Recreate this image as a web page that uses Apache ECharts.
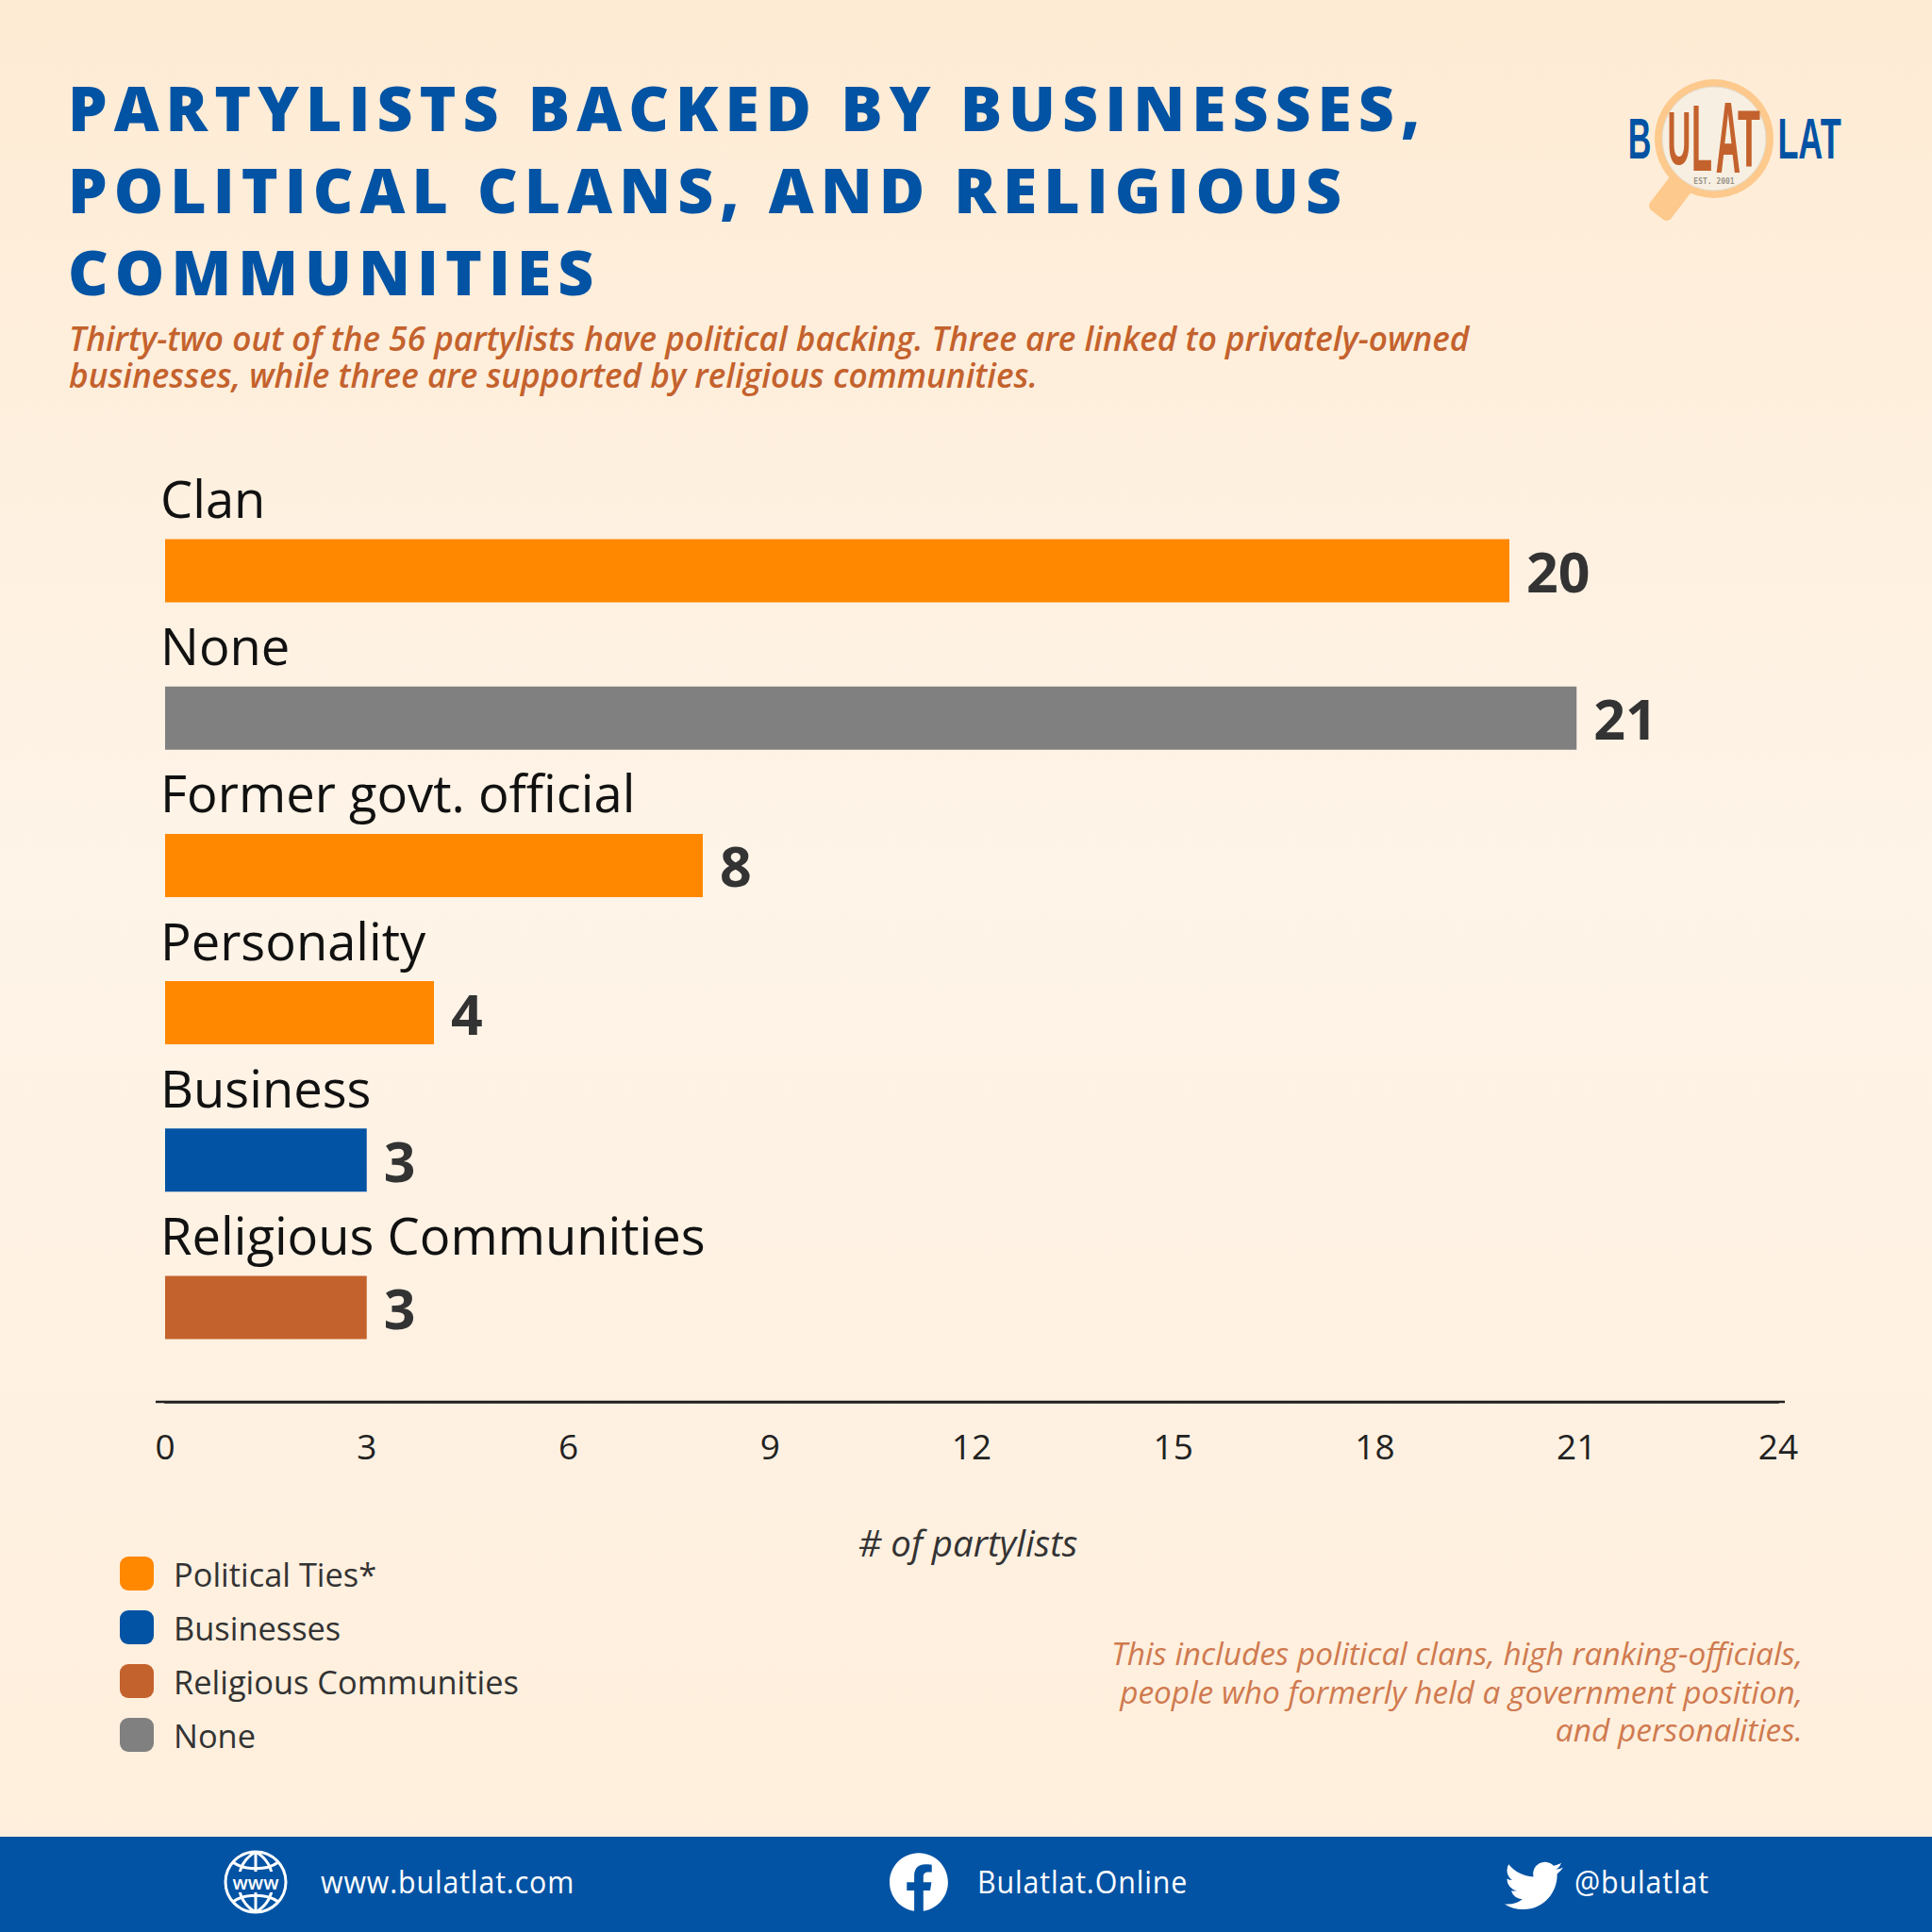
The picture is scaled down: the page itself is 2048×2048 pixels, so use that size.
<!DOCTYPE html>
<html>
<head>
<meta charset="utf-8">
<script src="https://cdn.jsdelivr.net/npm/echarts@6/dist/echarts.min.js"></script>
<style>
html,body{margin:0;padding:0;background:#fff3e6}
#c{width:2048px;height:2048px}
</style>
</head>
<body>
<div id="c"></div>
<script>
const categories = ['Clan','None','Former govt. official','Personality','Business','Religious Communities'];
const politicalTies = [20,null,8,4,null,null];
const businesses = [null,null,null,null,3,null];
const religious = [null,null,null,null,null,3];
const noneTies = [null,21,null,null,null,null];
const titleLines = 'PARTYLISTS BACKED BY BUSINESSES,\nPOLITICAL CLANS, AND RELIGIOUS\nCOMMUNITIES';
const subtitleLines = 'Thirty-two out of the 56 partylists have political backing. Three are linked to privately-owned\nbusinesses, while three are supported by religious communities.';
const noteLines = 'This includes political clans, high ranking-officials,\npeople who formerly held a government position,\nand personalities.';
const footerLabels = ['www.bulatlat.com','Bulatlat.Online','@bulatlat'];

const ORANGE='#ff8800',BLUE='#0353a4',RUST='#c4622d',GRAY='#808080',INK='#333333';
const FONT='"Open Sans"';
const LOGO='"Liberation Sans"';

const TW='M23.953 4.57a10 10 0 0 1-2.825.775 4.958 4.958 0 0 0 2.163-2.723c-.951.555-2.005.959-3.127 1.184a4.92 4.92 0 0 0-8.384 4.482C7.69 8.095 4.067 6.13 1.64 3.162a4.822 4.822 0 0 0-.666 2.475c0 1.71.87 3.213 2.188 4.096a4.904 4.904 0 0 1-2.228-.616v.06a4.923 4.923 0 0 0 3.946 4.827 4.996 4.996 0 0 1-2.212.085 4.936 4.936 0 0 0 4.604 3.417 9.867 9.867 0 0 1-6.102 2.105c-.39 0-.779-.023-1.17-.067a13.995 13.995 0 0 0 7.557 2.209c9.053 0 13.998-7.496 13.998-13.985 0-.21 0-.42-.015-.63A9.935 9.935 0 0 0 24 4.59z';
const FB='M24 12.073c0-6.627-5.373-12-12-12s-12 5.373-12 12c0 5.99 4.388 10.954 10.125 11.854v-8.385H7.078v-3.47h3.047V9.43c0-3.007 1.792-4.669 4.533-4.669 1.312 0 2.686.235 2.686.235v2.953H15.83c-1.491 0-1.956.925-1.956 1.874v2.25h3.328l-.532 3.47h-2.796v8.385C19.612 23.027 24 18.062 24 12.073z';
const GLOBE='M32 0A32 32 0 1 0 32 64A32 32 0 1 0 32 0M32 0C18 8 14 20 14 32C14 44 18 56 32 64M32 0C46 8 50 20 50 32C50 44 46 56 32 64M32 0V22M32 42V64M8 11C20 20 44 20 56 11M8 53C20 44 44 44 56 53';
echarts.graphic.registerShape('iconTwitter',echarts.graphic.extendPath(TW,{}));
echarts.graphic.registerShape('iconFacebook',echarts.graphic.extendPath(FB,{}));
echarts.graphic.registerShape('iconGlobe',echarts.graphic.extendPath(GLOBE,{}));

function barSeries(name,data,color){
  return {name,type:'bar',stack:'all',data,barWidth:67,itemStyle:{color},
    label:{show:true,position:'right',distance:18,fontFamily:FONT,fontWeight:700,fontSize:59,color:INK}};
}
function footerText(text,x){
  return {type:'text',x,y:1994,scaleX:0.92,style:{text,fill:'#fff',fontFamily:FONT,fontWeight:400,fontSize:33,verticalAlign:'middle'}};
}
function logoText(text,cx,cy,size,sx,fill){
  return {type:'text',x:cx,y:cy,scaleX:sx,style:{text,fill,fontFamily:LOGO,fontWeight:700,fontSize:size,align:'center',verticalAlign:'middle'}};
}

const option={
  animation:false,
  backgroundColor:{type:'linear',x:0,y:0,x2:0,y2:1,colorStops:[
    {offset:0,color:'#feebd4'},{offset:0.45,color:'#fef4e8'},{offset:1,color:'#ffeedb'}]},
  title:[
    {text:titleLines,left:67,top:64,textStyle:{fontFamily:FONT,fontWeight:800,fontSize:66,lineHeight:87,color:BLUE}},
    {text:subtitleLines,left:68,top:333,textStyle:{fontFamily:FONT,fontWeight:600,fontStyle:'italic',fontSize:35.2,lineHeight:39,color:RUST}},
    {text:noteLines,left:1906,textAlign:'right',top:1727,textStyle:{fontFamily:FONT,fontWeight:400,fontStyle:'italic',fontSize:33.4,lineHeight:40.5,color:'#cf7a4f'}}
  ],
  legend:{left:122,top:1645,orient:'vertical',itemWidth:36,itemHeight:36,itemGap:21,icon:'roundRect',
    data:['Political Ties*','Businesses','Religious Communities','None'],
    textStyle:{fontFamily:FONT,fontWeight:500,fontSize:34.4,color:INK,padding:[0,0,0,16]}},
  grid:{left:175,right:163,top:527,bottom:584},
  xAxis:{type:'value',min:0,max:24,interval:3,offset:22,
    axisLine:{show:true,lineStyle:{color:'#222',width:2.5}},axisTick:{show:false},splitLine:{show:false},
    axisLabel:{fontFamily:FONT,fontSize:37,color:'#222',margin:28},
    name:'# of partylists',nameLocation:'middle',nameGap:130,
    nameTextStyle:{fontFamily:FONT,fontStyle:'italic',fontSize:38.4,color:INK,padding:[0,8,0,0]}},
  yAxis:{type:'category',inverse:true,data:categories,
    axisLine:{show:false},axisTick:{show:false},
    axisLabel:{inside:true,margin:-5,verticalAlign:'bottom',fontFamily:FONT,fontSize:54.3,color:'#111',lineHeight:60,padding:[0,0,47,0]}},
  series:[
    barSeries('Political Ties*',politicalTies,ORANGE),
    barSeries('Businesses',businesses,BLUE),
    barSeries('Religious Communities',religious,RUST),
    barSeries('None',noneTies,GRAY)
  ],
  graphic:[
    {type:'line',z:-1,shape:{x1:165,y1:1486,x2:1892,y2:1486},style:{stroke:'#222',lineWidth:2.5}},
    {type:'rect',shape:{x:0,y:1947,width:2048,height:101},style:{fill:BLUE}},
    {type:'iconGlobe',x:239,y:1963,style:{fill:'none',stroke:'#fff',lineWidth:3}},
    {type:'rect',shape:{x:246,y:1984,width:50,height:22},style:{fill:BLUE}},
    {type:'text',x:271,y:1995,style:{text:'www',fill:'#fff',fontFamily:FONT,fontWeight:600,fontSize:20,align:'center',verticalAlign:'middle'}},
    footerText(footerLabels[0],340),
    {type:'iconFacebook',x:943,y:1964,scaleX:2.58,scaleY:2.58,style:{fill:'#fff'}},
    footerText(footerLabels[1],1036),
    {type:'iconTwitter',x:1595,y:1968,scaleX:2.58,scaleY:2.58,style:{fill:'#fff'}},
    footerText(footerLabels[2],1669),
    {type:'rect',x:1781,y:196,rotation:-0.65,shape:{x:-14,y:-8,width:28,height:48,r:6},style:{fill:'#fdc98c'}},
    {type:'circle',shape:{cx:1817,cy:147,r:63},style:{fill:'#fdc98c'}},
    {type:'circle',shape:{cx:1817,cy:147,r:55},style:{fill:'#f7efe2',stroke:'#e3dccd',lineWidth:1}},
    logoText('B',1738,147,62,0.55,BLUE),
    logoText('LAT',1918,147,62,0.58,BLUE),
    logoText('U',1780,146,80,0.43,RUST),
    logoText('L',1804,146,100,0.36,RUST),
    logoText('A',1832,146,107,0.34,RUST),
    logoText('T',1854,146,85,0.46,RUST),
    {type:'text',x:1817,y:192,style:{text:'EST. 2001',fill:'#9a9488',fontFamily:'"DejaVu Sans Mono"',fontWeight:700,fontSize:8,align:'center',verticalAlign:'middle'}}
  ]
};
const chart=echarts.init(document.getElementById('c'),null,{renderer:'svg',width:2048,height:2048});
chart.setOption(option);
document.querySelectorAll('#c svg text').forEach(t=>{
  if(getComputedStyle(t).fontWeight==='800') t.style.letterSpacing='7px';
  if(footerLabels.includes(t.textContent)) t.style.letterSpacing='0.95px';
});
</script>
</body>
</html>
